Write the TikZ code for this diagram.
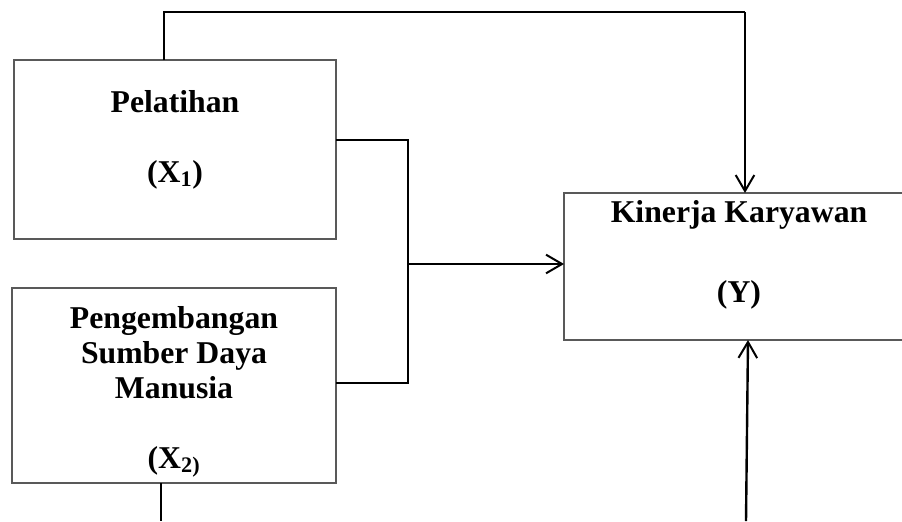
\documentclass[tikz,border=0pt]{standalone}
\usepackage{fontspec}
\setmainfont{Liberation Serif}
\usetikzlibrary{arrows.meta}
\begin{document}
\begin{tikzpicture}[x=0.75pt,y=-0.75pt,
  box/.style={draw=black!65,line width=0.9pt,rectangle,inner sep=0pt,outer sep=0pt},
  lbl/.style={anchor=base,inner sep=0pt,font=\bfseries\fontsize{23.8}{26.25}\selectfont},
  conn/.style={draw=black,line width=1.8pt},
  arr/.style={conn,-{Straight Barb[length=12pt,width=14pt,line width=1.5pt]}}]
\useasboundingbox (0,0) rectangle (902,521);
\clip (0,0) rectangle (902,521);
% boxes
\node[box,minimum width=241.5pt,minimum height=134.25pt] (b1) at (175,149.5) {};
\node[box,minimum width=243pt,minimum height=146.25pt] (b2) at (174,385.5) {};
\node[box,minimum width=312pt,minimum height=110.25pt] (bY) at (772,266.5) {};
% labels
\node[lbl] (t1a) at (175,112) {Pelatihan};
\node[lbl] (t1b) at (175,182) {(X\textsubscript{1})};
\node[lbl] (t2a) at (174,328) {Pengembangan};
\node[lbl] (t2b) at (174,363) {Sumber Daya};
\node[lbl] (t2c) at (174,398) {Manusia};
\node[lbl] (t2d) at (174,468) {(X\textsubscript{2)}};
\node[lbl] (tYa) at (739,222) {Kinerja Karyawan};
\node[lbl] (tYb) at (739,302) {(Y)};
% connector points
\coordinate (top1) at (164,12);
\coordinate (top2) at (745,12);
\coordinate (j1) at (408,140);
\coordinate (j2) at (408,383);
\coordinate (jm) at (408,264);
\coordinate (d1) at (161,521);
\coordinate (d2) at (746,521);
\coordinate (u2) at (748,340);
% connectors
\draw[conn] (b1.north -| top1) -- (top1) -- (top2);
\draw[arr] (top2) -- (bY.north -| top2);
\draw[conn] (b1.east |- j1) -- (j1) -- (j2) -- (b2.east |- j2);
\draw[arr] (jm) -- (bY.west |- jm);
\draw[conn] (b2.south -| d1) -- (d1);
\draw[arr] (d2) -- (bY.south -| u2);
\end{tikzpicture}
\end{document}
